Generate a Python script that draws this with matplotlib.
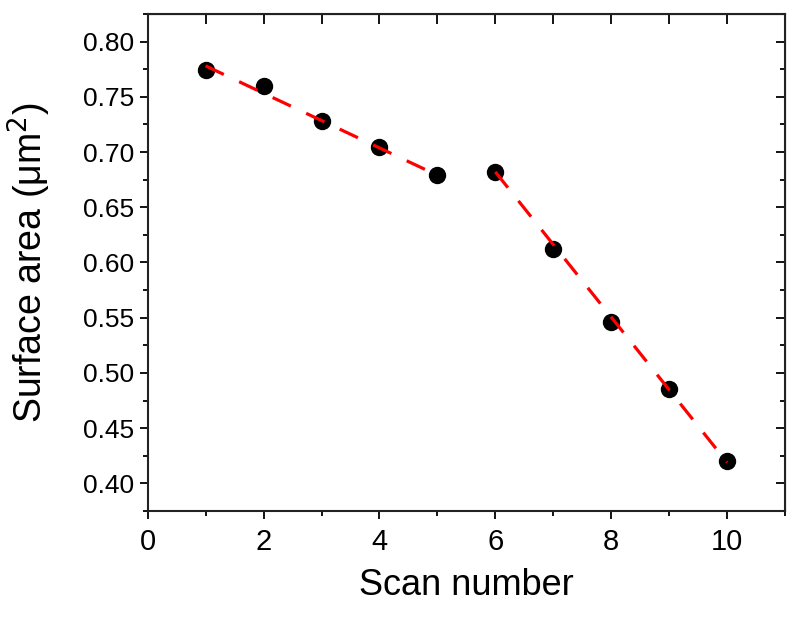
import matplotlib
matplotlib.use('Agg')
import matplotlib.pyplot as plt
from matplotlib.ticker import MultipleLocator

plt.rcParams['font.family'] = ['Liberation Sans', 'DejaVu Sans']

# Datos
scan = [1, 2, 3, 4, 5, 6, 7, 8, 9, 10]
area = [0.7745, 0.7600, 0.7285, 0.7050, 0.6795, 0.6817, 0.6122, 0.5458, 0.4853, 0.4200]

# Rectas de ajuste (extremos)
fit1_x = [1, 5]
fit1_y = [0.778, 0.679]
fit2_x = [6, 10]
fit2_y = [0.682, 0.419]

fig = plt.figure(figsize=(7.97, 6.21), dpi=100)
ax = fig.add_axes([0.1853, 0.1771, 0.7997, 0.8004])

ax.plot(scan, area, 'o', color='black', ms=11.5, zorder=2)
for fx, fy in [(fit1_x, fit1_y), (fit2_x, fit2_y)]:
    ax.plot(fx, fy, '--', color='#ff0000', lw=2.3, dashes=(6.3, 5.3), zorder=3)

ax.set_xlim(0, 11)
ax.set_ylim(0.375, 0.825)
ax.xaxis.set_major_locator(MultipleLocator(2))
ax.xaxis.set_minor_locator(MultipleLocator(1))
ax.yaxis.set_major_locator(MultipleLocator(0.05))
ax.yaxis.set_minor_locator(MultipleLocator(0.025))
ax.yaxis.set_major_formatter(plt.FormatStrFormatter('%.2f'))

for s in ax.spines.values():
    s.set_linewidth(1.5)
    s.set_color('#222222')
ax.tick_params(which='major', direction='out', length=6, width=1.3, pad=4)
ax.tick_params(axis='y', which='major', labelsize=19)
ax.tick_params(axis='x', which='major', labelsize=21, pad=6)
ax.tick_params(which='minor', direction='out', length=3.5, width=1.3)

# ticks en los lados de arriba y derecha, hacia adentro
top = ax.secondary_xaxis('top')
top.xaxis.set_major_locator(MultipleLocator(1))
top.tick_params(direction='in', length=7, width=1.3, labeltop=False)
right = ax.secondary_yaxis('right')
right.yaxis.set_major_locator(MultipleLocator(0.05))
right.yaxis.set_minor_locator(MultipleLocator(0.025))
right.tick_params(which='major', direction='in', length=6.5, width=1.3, labelright=False)
right.tick_params(which='minor', direction='in', length=3.5, width=1.3)

ax.set_xlabel('Scan number', fontsize=26, labelpad=9)
ax.set_ylabel('Surface area (μm$^2$)', fontsize=27, labelpad=21)

fig.savefig('out.png', dpi=100)
